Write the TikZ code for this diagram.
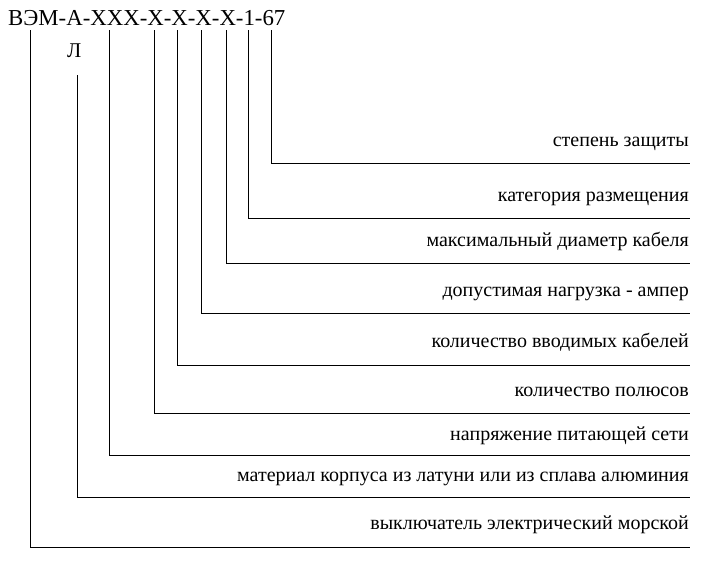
\documentclass[tikz,border=0pt]{standalone}
\usepackage{fontspec}
\setmainfont{Liberation Serif}
\newfontfamily\timesfont{Liberation Serif}
\usetikzlibrary{positioning}

\tikzset{
  legend/.style={anchor=base east, inner sep=0pt, font=\timesfont\fontsize{20}{22}\selectfont},
  mark code/.style={anchor=base west, inner sep=0pt, font=\timesfont\fontsize{22.8}{25}\selectfont},
  lead/.style={line width=0.9pt},
}

\begin{document}
\begin{tikzpicture}[x=1pt,y=-1pt]
  \useasboundingbox (0,0) rectangle (702,560);

  % designation
  \node[mark code] (code) at (8,25) {ВЭМ-А-XXX-X-X-X-X-1-67};
  \node[mark code, font=\timesfont\fontsize{21}{24}\selectfont] (alt) at (67,57) {Л};

  % line tops under the code
  \coordinate (vem) at (30,30);
  \coordinate (lat) at (77,75);
  \coordinate (volt) at (109,30);
  \coordinate (pole) at (154,30);
  \coordinate (cab) at (177,30);
  \coordinate (amp) at (201,30);
  \coordinate (diam) at (226,30);
  \coordinate (cat) at (248,30);
  \coordinate (ip) at (271,30);

  % line ends at the right
  \coordinate (vem-e) at (690,547);
  \coordinate (lat-e) at (690,497);
  \coordinate (volt-e) at (690,455);
  \coordinate (pole-e) at (690,413);
  \coordinate (cab-e) at (690,365);
  \coordinate (amp-e) at (690,313);
  \coordinate (diam-e) at (690,263);
  \coordinate (cat-e) at (690,218);
  \coordinate (ip-e) at (690,163);

  % legends
  \node[legend] (ip-t) at (689,146) {степень защиты};
  \node[legend] (cat-t) at (689,201) {категория размещения};
  \node[legend] (diam-t) at (689,246) {максимальный диаметр кабеля};
  \node[legend] (amp-t) at (689,296) {допустимая нагрузка - ампер};
  \node[legend] (cab-t) at (689,347) {количество вводимых кабелей};
  \node[legend] (pole-t) at (689,396) {количество полюсов};
  \node[legend] (volt-t) at (689,440) {напряжение питающей сети};
  \node[legend] (lat-t) at (689,481) {материал корпуса из латуни или из сплава алюминия};
  \node[legend] (vem-t) at (689,529) {выключатель электрический морской};

  \draw[lead] (ip) |- (ip-e);
  \draw[lead] (cat) |- (cat-e);
  \draw[lead] (diam) |- (diam-e);
  \draw[lead] (amp) |- (amp-e);
  \draw[lead] (cab) |- (cab-e);
  \draw[lead] (pole) |- (pole-e);
  \draw[lead] (volt) |- (volt-e);
  \draw[lead] (lat) |- (lat-e);
  \draw[lead] (vem) |- (vem-e);
\end{tikzpicture}
\end{document}
